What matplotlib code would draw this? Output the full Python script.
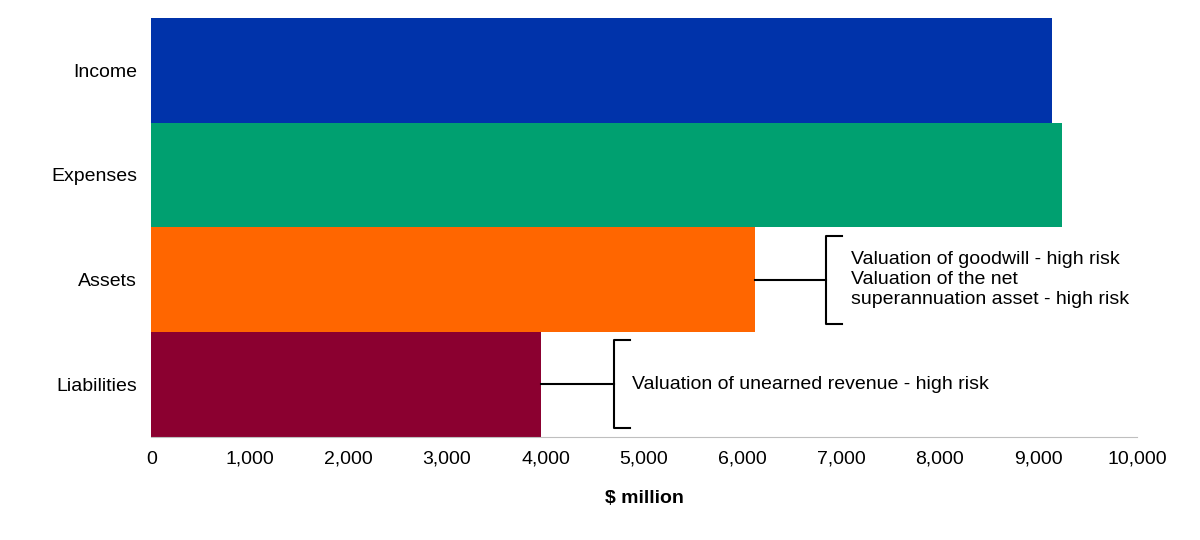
import matplotlib
matplotlib.use("Agg")
import matplotlib.pyplot as plt

plt.rcParams["font.family"] = "Liberation Sans"

categories = ["Liabilities", "Assets", "Expenses", "Income"]
values = [3955, 6125, 9240, 9140]
colors = ["#8B0030", "#FF6600", "#00A070", "#0033AA"]
xticks = list(range(0, 10001, 1000))
notes = {1: "Valuation of goodwill - high risk\nValuation of the net\nsuperannuation asset - high risk",
         0: "Valuation of unearned revenue - high risk"}
bracket_x = {1: 6846, 0: 4696}

fig = plt.figure(figsize=(12, 5.4), dpi=100)
ax = fig.add_axes([0.126, 0.191, 0.8215, 0.776])
ax.barh(range(len(categories)), values, height=1.0, color=colors)
ax.set_yticks(range(len(categories)))
ax.set_yticklabels(categories, fontsize=14)
ax.set_xticks(xticks)
ax.set_xticklabels([f"{v:,}" for v in xticks], fontsize=14)
ax.set_xlim(0, 10000)
ax.set_ylim(-0.5, 3.5)
for s in ["top", "right", "left"]:
    ax.spines[s].set_visible(False)
ax.spines["bottom"].set_color("#BFBFBF")
ax.tick_params(length=0, pad=10)
ax.set_xlabel("$ million", fontsize=14, fontweight="bold", labelpad=16)

for i, txt in notes.items():
    v = values[i]
    bx = bracket_x[i]
    h = 0.42
    ax.plot([v, bx], [i, i], color="black", lw=1.5)
    ax.plot([bx + 160, bx, bx, bx + 160], [i + h, i + h, i - h, i - h], color="black", lw=1.5)
    ax.text(bx + 250 if i == 1 else bx + 180, i, txt, fontsize=14, va="center", ha="left", linespacing=1.25)

fig.savefig("out.png")
